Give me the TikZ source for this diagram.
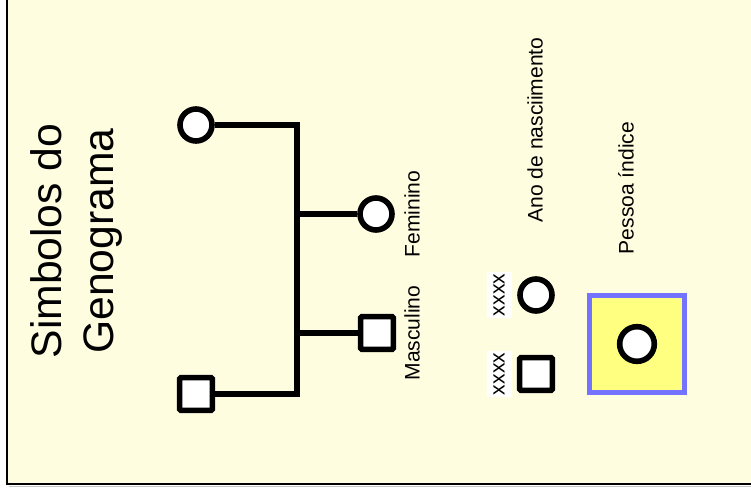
\documentclass[tikz,border=0pt]{standalone}
\usepackage{fontspec}
\setmainfont{Liberation Sans}
\definecolor{paper}{HTML}{FFFDE0}
\definecolor{frameblue}{HTML}{7373FF}
\definecolor{idxyellow}{HTML}{FFFF80}
\tikzset{
  female/.style={circle, draw, fill=white, line width=4.2pt, minimum size=24pt, inner sep=0pt},
  male/.style={rectangle, draw, fill=white, line width=4.2pt, minimum size=24.5pt, inner sep=0pt, rounded corners=1pt},
  tie/.style={line width=3.8pt},
  caption/.style={rotate=90, font=\fontsize{15.8}{19}\selectfont},
  year/.style={caption, fill=white, inner xsep=1.5pt, inner ysep=0pt},
}

\begin{document}
\begin{tikzpicture}[x=0.75pt, y=-0.75pt]
  \useasboundingbox (0,0) rectangle (751,495);
  % sheet with its frame, cut by the right and top edges
  \fill[paper] (7,-5) rectangle (760,484);
  \draw[gray!45, line width=1pt] (9,486.5) -- (760,486.5);
  \draw[line width=1.5pt] (7,-5) -- (7,484) -- (760,484);
  % title
  \node[rotate=90, align=center, font=\fontsize{32}{39}\selectfont] (title) at (76,241) {Simbolos do\\Genograma};
  % parents and children
  \node[female] (mother) at (196,125) {};
  \node[male] (father) at (196,394) {};
  \node[female] (daughter) at (376,214) {};
  \node[male] (son) at (377,333) {};
  \coordinate (bartop) at (297,125);
  \coordinate (barbot) at (297,394);
  \draw[tie] (mother) -- (bartop) -- (barbot) -- (father);
  \draw[tie] (daughter) -- (daughter -| bartop);
  \draw[tie] (son) -- (son -| bartop);
  \node[caption] (fem) at (412,214) {Feminino};
  \node[caption] (masc) at (412,333) {Masculino};
  % birth year
  \node[year] (yearf) at (499.5,295) {\strut xxxx};
  \node[year] (yearm) at (499.5,374) {\strut xxxx};
  \node[female] (birthf) at (536,295) {};
  \node[male] (birthm) at (536,374) {};
  \node[caption] (birth) at (535,130) {Ano de nasciimento};
  % index person
  \node[draw=frameblue, fill=idxyellow, line width=3.75pt, minimum width=71.5pt, minimum height=73pt] (indexbox) at (637,344) {};
  \node[female, minimum size=26pt] (index) at (indexbox) {};
  \node[caption] (indexlab) at (626,188) {Pessoa índice};
\end{tikzpicture}
\end{document}
